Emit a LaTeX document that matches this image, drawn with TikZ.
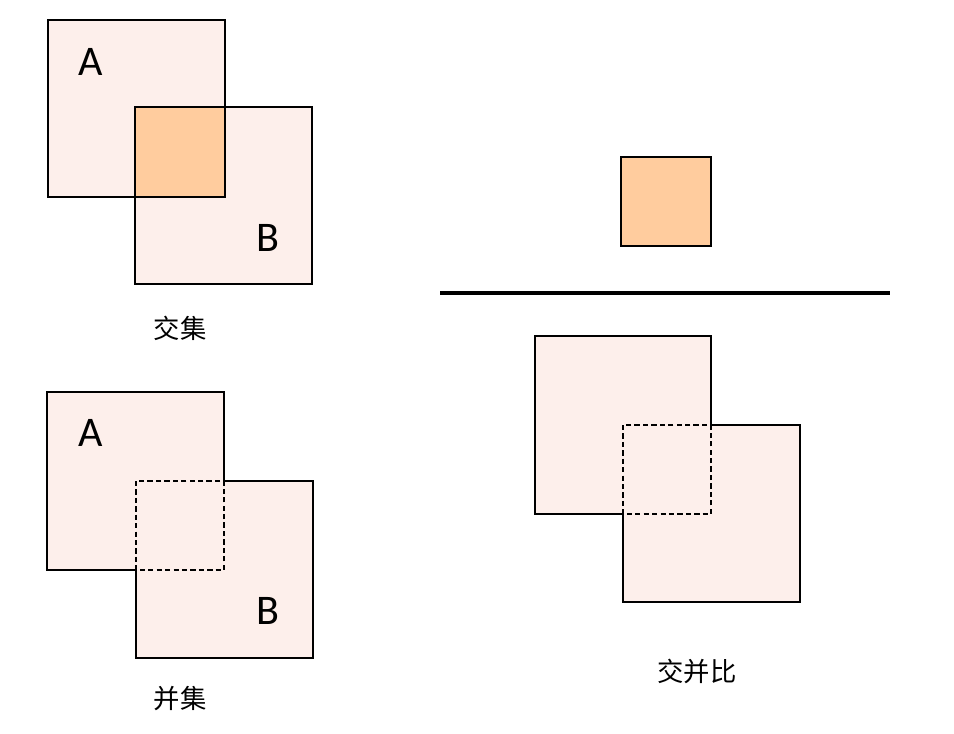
\documentclass[tikz,border=0pt]{standalone}
\usepackage{fontspec}
\setmainfont{Carlito}
\newfontfamily\cjk{Noto Sans CJK SC}
\usetikzlibrary{positioning}
\definecolor{setfill}{HTML}{FDEFEB}
\definecolor{capfill}{HTML}{FFCC9E}

\begin{document}
\begin{tikzpicture}[x=0.02cm, y=-0.02cm,
		setbox/.style={draw, line width=1.1pt, fill=setfill},
		capbox/.style={draw, line width=1.1pt, fill=capfill},
		capline/.style={line width=1.1pt, dash pattern=on 3pt off 1.8pt},
		letter/.style={font=\fontsize{24}{28}\selectfont},
		caption/.style={font=\cjk\fontsize{15}{18}\selectfont}]
		\useasboundingbox (0,0) rectangle (954,734);
		
		% intersection
		\draw [setbox] (48,20) rectangle (225,197);
		\draw [setbox] (135,107) rectangle (312,284);
		\draw [capbox] (135,107) rectangle (225,197);
		\node [letter] (inter-A) at (91,62) {A};
		\node [letter] (inter-B) at (268,238) {B};
		\node [caption] (inter-cap) at (180,328) {交集};
		
		% union
		\fill [setfill] (47,392) rectangle (224,570);
		\fill [setfill] (136,481) rectangle (313,658);
		\draw [line width=1.1pt] (47,392) -- (224,392) -- (224,481) -- (313,481) -- (313,658)
		-- (136,658) -- (136,570) -- (47,570) -- cycle;
		\draw [capline] (136,481) rectangle (224,570);
		\node [letter] (union-A) at (91,433) {A};
		\node [letter] (union-B) at (268,611) {B};
		\node [caption] (union-cap) at (180,699) {并集};
		
		% ratio
		\draw [capbox] (621,157) rectangle (711,246);
		\draw [line width=2.2pt] (440,293) -- (890,293);
		\fill [setfill] (535,336) rectangle (711,514);
		\fill [setfill] (623,425) rectangle (800,602);
		\draw [line width=1.1pt] (535,336) -- (711,336) -- (711,425) -- (800,425) -- (800,602)
		-- (623,602) -- (623,514) -- (535,514) -- cycle;
		\draw [capline] (623,425) rectangle (711,514);
		\node [caption] (ratio-cap) at (697,671) {交并比};
		
	\end{tikzpicture}
\end{document}
